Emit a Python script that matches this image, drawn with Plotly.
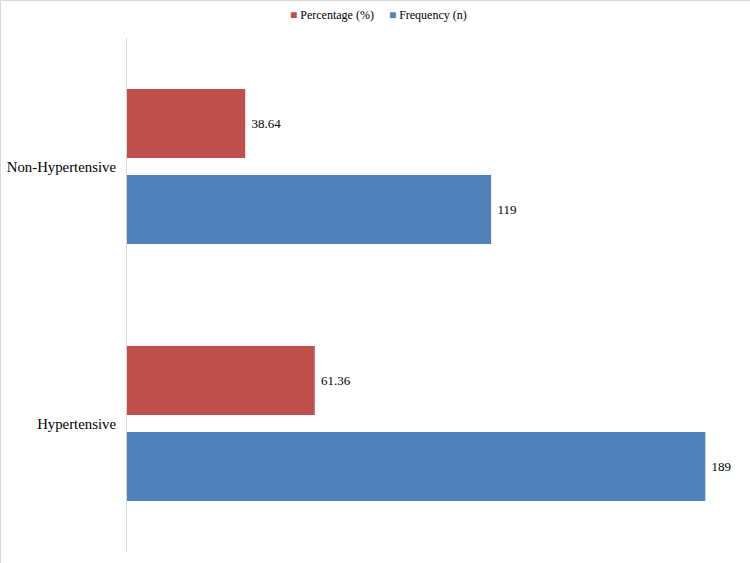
import plotly.graph_objects as go

categories = ["Hypertensive", "Non-Hypertensive"]
frequency = [189, 119]
percentage = [61.36, 38.64]
freq_labels = ["189", "119"]
pct_labels = ["61.36", "38.64"]
series_names = ["Percentage (%)", "Frequency (n)"]
series_colors = ["#C0504D", "#4F81BD"]

FONT = "Liberation Serif, Times New Roman, serif"

fig = go.Figure()
fig.add_trace(go.Bar(
    y=categories, x=frequency, orientation="h", name=series_names[1],
    marker=dict(color=series_colors[1], line=dict(width=0)),
    text=[" " + t for t in freq_labels], textposition="outside",
    textfont=dict(family=FONT, size=13, color="#000000"), cliponaxis=False,
))
fig.add_trace(go.Bar(
    y=categories, x=percentage, orientation="h", name=series_names[0],
    marker=dict(color=series_colors[0], line=dict(width=0)),
    text=[" " + t for t in pct_labels], textposition="outside",
    textfont=dict(family=FONT, size=13, color="#000000"), cliponaxis=False,
))

legend_text = "     ".join(
    f"<span style='color:{c}'>■</span> {n}" for n, c in zip(series_names, series_colors)
)

fig.update_layout(
    width=750, height=563,
    margin=dict(l=127, r=11, t=38, b=11, autoexpand=False),
    paper_bgcolor="white", plot_bgcolor="white",
    barmode="group", bargap=0.33, bargroupgap=0.2,
    font=dict(family=FONT, color="#000000", size=14),
    showlegend=False,
    uniformtext=dict(mode=False),
    annotations=[dict(
        text=legend_text, xref="paper", yref="paper",
        x=(378 - 127) / 612, y=(552 - 15) / 514, xanchor="center", yanchor="middle",
        showarrow=False, font=dict(family=FONT, size=12, color="#000000"),
    )],
)
fig.update_xaxes(range=[0, 200], showgrid=False, showticklabels=False, zeroline=False,
                 showline=False, ticks="")
fig.update_yaxes(categoryorder="array", categoryarray=categories, showgrid=False,
                 showline=True, linecolor="#D9D9D9", linewidth=1, ticks="",
                 ticklabelstandoff=7, tickfont=dict(family=FONT, size=14.8, color="#000000"))

# outer chart border (top and left)
fig.add_shape(type="line", xref="paper", yref="paper",
              x0=(0.5 - 127) / 612, x1=(750 - 127) / 612,
              y0=(552 - 0.5) / 514, y1=(552 - 0.5) / 514,
              line=dict(color="#D9D9D9", width=1))
fig.add_shape(type="line", xref="paper", yref="paper",
              x0=(0.5 - 127) / 612, x1=(0.5 - 127) / 612,
              y0=(552 - 563) / 514, y1=(552 - 0.5) / 514,
              line=dict(color="#D9D9D9", width=1))

fig.write_html("out.html")
